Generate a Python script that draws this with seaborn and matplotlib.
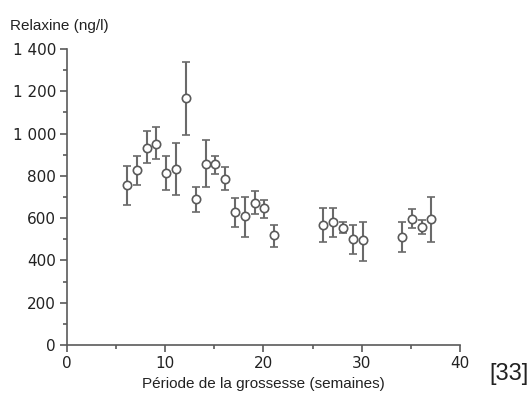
import numpy as np
import pandas as pd
import matplotlib
matplotlib.use("Agg")
import matplotlib.pyplot as plt
import seaborn as sns
from matplotlib.ticker import FuncFormatter, MultipleLocator

# weeks of pregnancy and relaxin (ng/l), with error bar ends
weeks = [6, 7, 8, 9, 10, 11, 12, 13, 14, 15, 16, 17, 18, 19, 20, 21,
         26, 27, 28, 29, 30, 34, 35, 36, 37]
relaxin = [757, 828, 933, 951, 812, 831, 1167, 689, 858, 855, 785, 631, 610,
           673, 647, 519, 568, 583, 555, 501, 495, 512, 594, 558, 594]
err_high = [847, 894, 1012, 1030, 893, 954, 1337, 746, 970, 895, 843, 693, 702,
            730, 686, 568, 647, 647, 583, 568, 583, 580, 642, 591, 698]
err_low = [661, 755, 862, 880, 733, 708, 995, 631, 747, 807, 732, 556, 512,
           620, 599, 462, 486, 512, 528, 430, 399, 441, 555, 525, 486]

df = pd.DataFrame({"week": weeks, "relaxin": relaxin,
                   "high": err_high, "low": err_low})

sns.set_style("ticks")
plt.rcParams["font.family"] = ["Liberation Sans", "DejaVu Sans"]

line_col = "#5a5a5a"
bar_col = "#6a6a6a"
text_col = "#222222"

fig = plt.figure(figsize=(5.28, 4.0), dpi=100)
ax = fig.add_axes([0.127, 0.1375, 0.744, 0.74])

yerr = np.array([df["relaxin"] - df["low"], df["high"] - df["relaxin"]])
ax.errorbar(df["week"] + 0.1, df["relaxin"], yerr=yerr, fmt="none",
            ecolor=bar_col, elinewidth=1.5, capsize=2.6, capthick=1.2, zorder=2)
sns.scatterplot(data=df, x=df["week"] + 0.1, y="relaxin", ax=ax, marker="o",
                s=36, facecolor="white", edgecolor=line_col, linewidth=1.2,
                zorder=3)

ax.set_xlim(0, 40)
ax.set_ylim(0, 1400)
ax.xaxis.set_major_locator(MultipleLocator(10))
ax.xaxis.set_minor_locator(MultipleLocator(5))
ax.yaxis.set_major_locator(MultipleLocator(200))
ax.yaxis.set_minor_locator(MultipleLocator(100))
ax.yaxis.set_major_formatter(FuncFormatter(lambda v, p: f"{int(v):,}".replace(",", " ")))

for s in ["top", "right"]:
    ax.spines[s].set_visible(False)
for s in ["left", "bottom"]:
    ax.spines[s].set_color(line_col)
    ax.spines[s].set_linewidth(1.2)
ax.tick_params(which="major", length=5, width=1.2, color=line_col, pad=3,
               labelsize=11, labelcolor=text_col, labelfontfamily="DejaVu Sans")
ax.tick_params(which="minor", length=3, width=1.2, color=line_col)

ax.set_xlabel("Période de la grossesse (semaines)", fontsize=11, color=text_col,
              labelpad=4)
ax.set_ylabel("")
fig.text(0.019, 0.935, "Relaxine (ng/l)", fontsize=11, color=text_col,
         ha="left", va="center")
fig.text(0.926, 0.065, "[33]", fontsize=17, color=text_col,
         ha="left", va="center")

fig.savefig("out.png", dpi=100)
